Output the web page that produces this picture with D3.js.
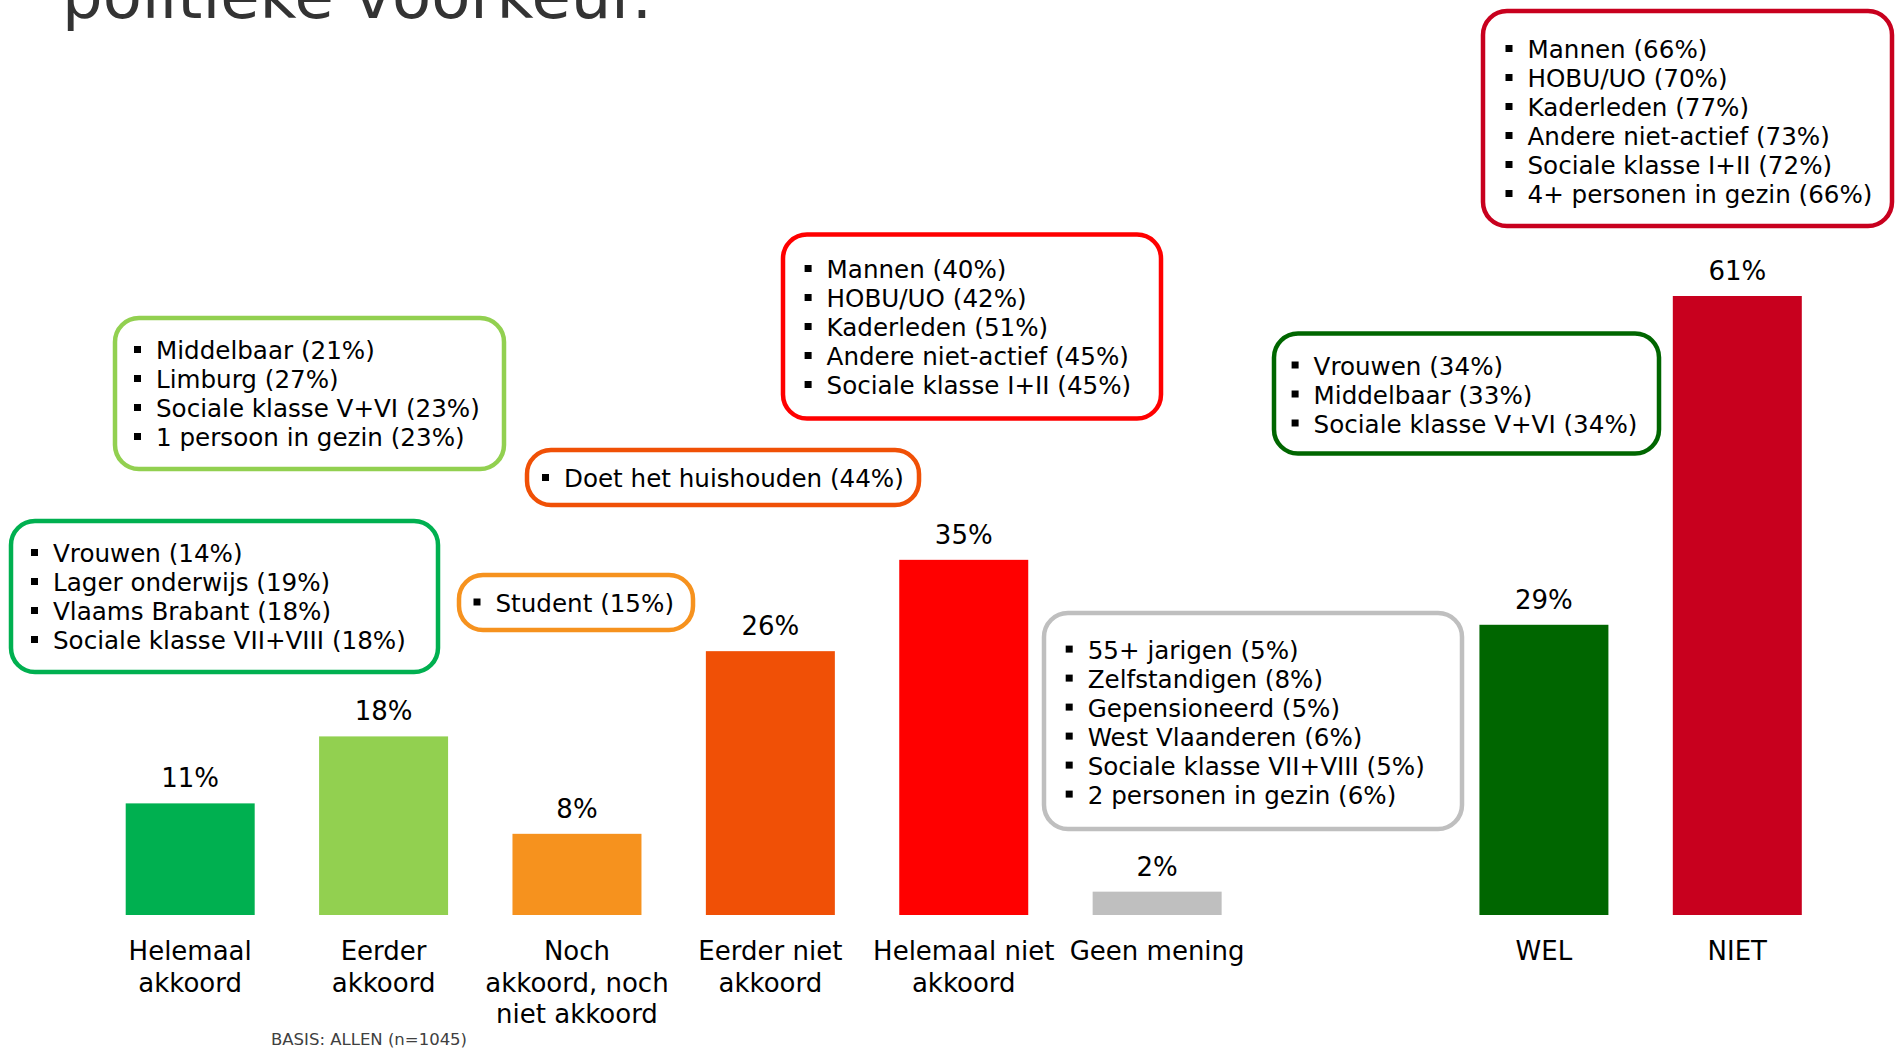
<!DOCTYPE html>
<html>
<head>
<meta charset="utf-8">
<script src="https://cdn.jsdelivr.net/npm/d3@7"></script>
<style>
  html, body { margin: 0; padding: 0; background: #fff; }
  svg { display: block; }
  text { font-family: "DejaVu Sans", Verdana, sans-serif; }
</style>
</head>
<body>
<svg id="chart" width="1895" height="1050"></svg>
<script>
// ---------- DATA ----------
const categories = ["Helemaal akkoord", "Eerder akkoord", "Noch akkoord, noch niet akkoord",
  "Eerder niet akkoord", "Helemaal niet akkoord", "Geen mening", "WEL", "NIET"];
const labelLines = [["Helemaal", "akkoord"], ["Eerder", "akkoord"], ["Noch", "akkoord, noch", "niet akkoord"],
  ["Eerder niet", "akkoord"], ["Helemaal niet", "akkoord"], ["Geen mening"], ["WEL"], ["NIET"]];
const values = [11, 17.6, 8, 26, 35, 2.3, 28.6, 61];
const valueLabels = ["11%", "18%", "8%", "26%", "35%", "2%", "29%", "61%"];
const barColors = ["#00B050", "#92D050", "#F6921E", "#F05006", "#FF0000", "#BFBFBF", "#006600", "#C8001E"];

const calloutsHelemaalAkkoord = ["Vrouwen (14%)", "Lager onderwijs (19%)", "Vlaams Brabant (18%)", "Sociale klasse VII+VIII (18%)"];
const calloutsEerderAkkoord = ["Middelbaar (21%)", "Limburg (27%)", "Sociale klasse V+VI (23%)", "1 persoon in gezin (23%)"];
const calloutsNoch = ["Student (15%)"];
const calloutsEerderNiet = ["Doet het huishouden (44%)"];
const calloutsHelemaalNiet = ["Mannen (40%)", "HOBU/UO (42%)", "Kaderleden (51%)", "Andere niet-actief (45%)", "Sociale klasse I+II (45%)"];
const calloutsGeenMening = ["55+ jarigen (5%)", "Zelfstandigen (8%)", "Gepensioneerd (5%)", "West Vlaanderen (6%)", "Sociale klasse VII+VIII (5%)", "2 personen in gezin (6%)"];
const calloutsWel = ["Vrouwen (34%)", "Middelbaar (33%)", "Sociale klasse V+VI (34%)"];
const calloutsNiet = ["Mannen (66%)", "HOBU/UO (70%)", "Kaderleden (77%)", "Andere niet-actief (73%)", "Sociale klasse I+II (72%)", "4+ personen in gezin (66%)"];
const callouts = [calloutsHelemaalAkkoord, calloutsEerderAkkoord, calloutsNoch, calloutsEerderNiet,
  calloutsHelemaalNiet, calloutsGeenMening, calloutsWel, calloutsNiet];

const titleText = "politieke voorkeur.";
const basisText = "BASIS: ALLEN (n=1045)";

// ---------- LAYOUT ----------
const W = 1895, H = 1050;
const svg = d3.select("#chart");
svg.append("rect").attr("width", W).attr("height", H).attr("fill", "#fff");

const spacer = "__gap__";
const domain = categories.slice(0, 6).concat([spacer], categories.slice(6));
const x = d3.scaleBand().domain(domain).range([93.5, 1834]).paddingInner(0.333).paddingOuter(0.1665);
const y = d3.scaleLinear().domain([0, 61]).range([915, 296]);

// title (partially cut off at top, as in the original slide)
svg.append("text").attr("x", 62).attr("y", 18)
  .attr("font-size", 64).attr("fill", "#333333").text(titleText);

const data = categories.map((c, i) => ({ cat: c, v: values[i], label: valueLabels[i], color: barColors[i], lines: labelLines[i], items: callouts[i] }));

// bars
svg.append("g").selectAll("rect").data(data).join("rect")
  .attr("x", d => x(d.cat)).attr("width", x.bandwidth())
  .attr("y", d => y(d.v)).attr("height", d => y(0) - y(d.v))
  .attr("fill", d => d.color);

// value labels
svg.append("g").selectAll("text").data(data).join("text")
  .attr("x", d => x(d.cat) + x.bandwidth() / 2)
  .attr("y", d => y(d.v) - 16)
  .attr("text-anchor", "middle").attr("font-size", 26).attr("fill", "#000")
  .text(d => d.label);

// category labels
const catG = svg.append("g").selectAll("text").data(data).join("text")
  .attr("text-anchor", "middle").attr("font-size", 26).attr("fill", "#000");
catG.each(function (d) {
  const t = d3.select(this);
  d.lines.forEach((ln, j) => {
    t.append("tspan").attr("x", x(d.cat) + x.bandwidth() / 2).attr("y", 960 + j * 31.5).text(ln);
  });
});

// basis note
svg.append("text").attr("x", 271).attr("y", 1045)
  .attr("font-size", 16.5).attr("fill", "#404040").text(basisText);

// callout boxes (annotation layout)
const boxLayout = [
  { x: 11, y: 521, w: 427, h: 151, tx: 42, by: 41 },
  { x: 115, y: 318, w: 389, h: 151, tx: 41, by: 41 },
  { x: 459, y: 575, w: 234, h: 55, tx: 36.5, by: 36.5 },
  { x: 527, y: 450, w: 392, h: 55, tx: 37, by: 37 },
  { x: 783, y: 234.5, w: 378, h: 184, tx: 43.6, by: 43.5 },
  { x: 1044, y: 613, w: 418, h: 216, tx: 43.7, by: 45.6 },
  { x: 1274, y: 333.5, w: 385, h: 120, tx: 39.6, by: 41 },
  { x: 1483, y: 11, w: 409, h: 215, tx: 44.5, by: 47 }
];
const lineH = 29;

data.forEach((d, i) => {
  const b = boxLayout[i];
  const g = svg.append("g");
  g.append("rect").attr("x", b.x).attr("y", b.y).attr("width", b.w).attr("height", b.h)
    .attr("rx", 24).attr("ry", 24)
    .attr("fill", "#fff").attr("stroke", d.color).attr("stroke-width", 4.5);
  d.items.forEach((item, j) => {
    const base = b.y + b.by + j * lineH;
    g.append("rect").attr("x", b.x + b.tx - 22).attr("y", base - 13)
      .attr("width", 7).attr("height", 7).attr("fill", "#000");
    g.append("text").attr("x", b.x + b.tx).attr("y", base)
      .attr("font-size", 24.6).attr("fill", "#000").text(item);
  });
});
</script>
</body>
</html>
